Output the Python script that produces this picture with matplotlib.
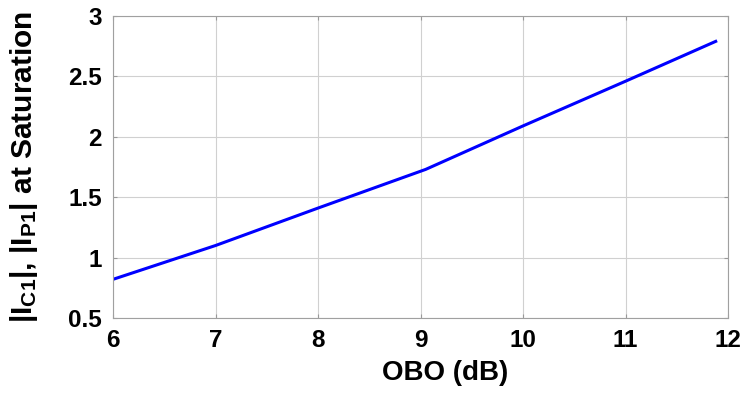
import matplotlib.pyplot as plt

# data
obo = [6, 7, 8, 9.05, 10, 11, 11.88]
ratio = [0.82, 1.10, 1.41, 1.73, 2.09, 2.46, 2.79]
xticks = [6, 7, 8, 9, 10, 11, 12]
yticks = [0.5, 1, 1.5, 2, 2.5, 3]

plt.rcParams['font.family'] = ['Liberation Sans', 'DejaVu Sans']
plt.rcParams['font.weight'] = 'bold'
plt.rcParams['mathtext.fontset'] = 'custom'
plt.rcParams['mathtext.rm'] = 'Liberation Sans:bold'
plt.rcParams['mathtext.bf'] = 'Liberation Sans:bold'
plt.rcParams['mathtext.default'] = 'bf'

fig = plt.figure(figsize=(7.45, 3.94), dpi=100)
ax = fig.add_axes([113/745, 1-318/394, 615/745, 302/394])
ax.plot(obo, ratio, color='#0000ff', lw=2.2)
ax.set_xlim(6, 12)
ax.set_ylim(0.5, 3)
ax.set_xticks(xticks)
ax.set_yticks(yticks)
ax.set_yticklabels(['0.5', '1', '1.5', '2', '2.5', '3'])
ax.grid(True, color='#d0d0d0', lw=0.8)
ax.tick_params(direction='in', length=3, color='#999999', labelsize=17.5, top=True, right=True)
ax.tick_params(axis='x', pad=8)
ax.tick_params(axis='y', pad=8)
for s in ax.spines.values():
    s.set_color('#a0a0a0')
    s.set_linewidth(0.8)
ax.set_xlabel('OBO (dB)', fontsize=20, fontweight='bold')
ax.xaxis.set_label_coords((445-113)/615, -0.14)
ax.set_ylabel('|I$_{C1}$|, |I$_{P1}$| at Saturation', fontsize=21.5,
              fontweight='bold')
ax.yaxis.set_label_coords(-0.118, 0.5)
fig.savefig('out.png', dpi=100)
